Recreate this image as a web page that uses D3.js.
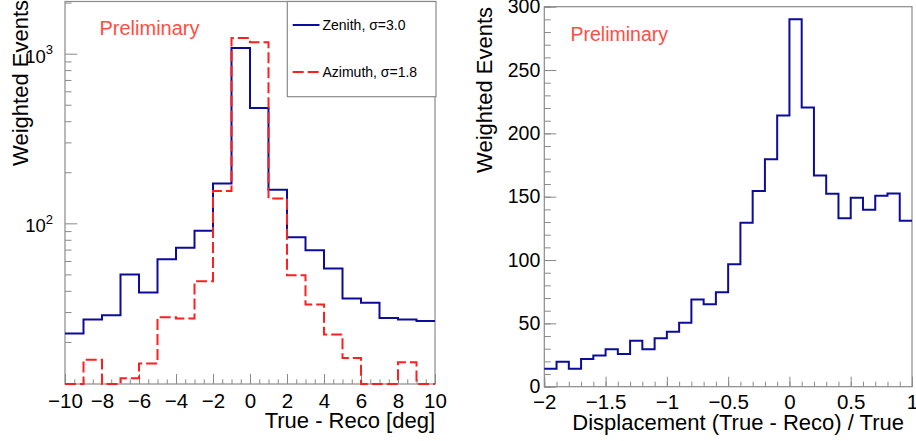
<!DOCTYPE html>
<html>
<head>
<meta charset="utf-8">
<script src="https://cdn.jsdelivr.net/npm/d3@7"></script>
<style>
  html, body { margin: 0; padding: 0; background: #fff; }
  svg { display: block; font-family: "Liberation Sans", Arial, Helvetica, sans-serif; }
</style>
</head>
<body>
<svg id="chart" width="916" height="441"></svg>
<script>
// left panel: angular residuals, 1 deg bins (lower edges)
const angleBinLo = [-10, -9, -8, -7, -6, -5, -4, -3, -2, -1, 0, 1, 2, 3, 4, 5, 6, 7, 8, 9];
const angleBinHi = 10;
const zenithCounts = [22.4, 27.1, 28.7, 50, 39.1, 61.5, 71.8, 90.4, 172, 1081,
                      478, 158, 82.7, 69.5, 54.2, 36, 34, 27.7, 27.1, 26.6];
const azimuthCounts = [0, 15.7, 0, 12.2, 14.9, 28, 27.5, 45.6, 155, 1238,
                       1167, 140, 49.5, 33.2, 22.1, 16.1, 0, 0, 15.2, 0];
const legendLabels = ['Zenith, \u03c3=3.0', 'Azimuth, \u03c3=1.8'];

// right panel: relative displacement, 0.1 bins (lower edges)
const dispBinLo = [-2.0, -1.9, -1.8, -1.7, -1.6, -1.5, -1.4, -1.3, -1.2, -1.1,
                   -1.0, -0.9, -0.8, -0.7, -0.6, -0.5, -0.4, -0.3, -0.2, -0.1,
                    0.0, 0.1, 0.2, 0.3, 0.4, 0.5, 0.6, 0.7, 0.8, 0.9];
const dispBinHi = 1.0;
const dispCounts = [14.2, 19.7, 14.2, 21.8, 24.7, 29.5, 25.8, 36.3, 29.5, 38.2,
                    43.4, 50.5, 68.9, 65, 74.5, 96.6, 129.5, 154.5, 179.5, 214.2,
                    290, 220.5, 166.8, 152.4, 132.9, 149.2, 139.7, 150.8, 152.6, 131];

const leftXTicks = [-10, -8, -6, -4, -2, 0, 2, 4, 6, 8, 10];
const leftYMajor = [100, 1000];
const rightXTicks = [-2, -1.5, -1, -0.5, 0, 0.5, 1];
const rightYTicks = [0, 50, 100, 150, 200, 250, 300];

const blue = '#0c0c9c';
const red = '#ff1f1f';
const prelimColor = '#ff4d40';
const frameColor = '#8a8a8a';

const svg = d3.select('#chart');

// turn bin edges + contents into step points
const stepPoints = (lo, hi, vals) => {
    const pts = lo.map((x, i) => [x, vals[i]]);
    pts.push([hi, vals[vals.length - 1]]);
    return pts;
};

const styleTicks = (g) => {
    g.select('.domain').remove();
    g.selectAll('.tick line').attr('stroke', frameColor).attr('stroke-width', 1);
    g.selectAll('.tick text').attr('fill', '#000');
};

// ---------------- left panel ----------------
const L = { left: 65, right: 435, top: 1.5, bottom: 384 };

const xL = d3.scaleLinear().domain([-10, 10]).range([L.left, L.right]);
const yL = d3.scaleLog().domain([11.3, 2030]).range([L.bottom, L.top]);
const yMinL = yL.domain()[0];

// minor log ticks
const logMinor = [];
[10, 100, 1000].forEach(dec => {
    for (let m = 1; m < 10; m++) {
        const v = dec * m;
        if (v > yMinL && v < yL.domain()[1] && m !== 1) logMinor.push(v);
    }
});

svg.append('g')
    .attr('transform', `translate(0,${L.bottom})`)
    .call(d3.axisBottom(xL).tickValues(d3.range(-10, 10.01, 0.5)).tickSize(-4.7).tickFormat(''))
    .call(styleTicks);

svg.append('g')
    .attr('transform', `translate(0,${L.bottom})`)
    .call(d3.axisBottom(xL).tickValues(leftXTicks).tickSize(-10).tickPadding(9)
        .tickFormat(d3.format('')))
    .call(styleTicks)
    .call(g => g.selectAll('.tick text').attr('font-size', 20.5).attr('dy', '0.71em'));

svg.append('g')
    .attr('transform', `translate(${L.left},0)`)
    .call(d3.axisLeft(yL).tickValues(logMinor).tickSize(-6.5).tickFormat(''))
    .call(styleTicks);

svg.append('g')
    .attr('transform', `translate(${L.left},0)`)
    .call(d3.axisLeft(yL).tickValues(leftYMajor).tickSize(-12.3).tickFormat(''))
    .call(styleTicks);

// 10^n labels
leftYMajor.forEach(v => {
    const t = svg.append('text')
        .attr('x', L.left - 12)
        .attr('y', yL(v) + 9)
        .attr('text-anchor', 'end')
        .attr('font-size', 18.5)
        .attr('fill', '#000');
    t.append('tspan').text('10');
    t.append('tspan')
        .attr('font-size', 13)
        .attr('dy', -8.5)
        .text(String(Math.round(Math.log10(v))));
});

// frame
svg.append('rect')
    .attr('x', L.left).attr('y', L.top)
    .attr('width', L.right - L.left).attr('height', L.bottom - L.top)
    .attr('fill', 'none').attr('stroke', frameColor).attr('stroke-width', 1.2);

svg.append('defs').append('clipPath').attr('id', 'clip-left')
    .append('rect')
    .attr('x', L.left).attr('y', L.top - 1)
    .attr('width', L.right - L.left).attr('height', L.bottom - L.top + 2);

const lineL = d3.line()
    .x(d => xL(d[0]))
    .y(d => yL(Math.max(d[1], yMinL)))
    .curve(d3.curveStepAfter);

svg.append('path')
    .datum(stepPoints(angleBinLo, angleBinHi, zenithCounts))
    .attr('fill', 'none')
    .attr('stroke', blue)
    .attr('stroke-width', 2)
    .attr('clip-path', 'url(#clip-left)')
    .attr('d', lineL);

svg.append('path')
    .datum(stepPoints(angleBinLo, angleBinHi, azimuthCounts))
    .attr('fill', 'none')
    .attr('stroke', red)
    .attr('stroke-width', 2)
    .attr('stroke-dasharray', '11,4')
    .attr('clip-path', 'url(#clip-left)')
    .attr('d', lineL);

// legend
svg.append('rect')
    .attr('x', 287.3).attr('y', L.top)
    .attr('width', 436 - 287.3).attr('height', 96.7 - L.top)
    .attr('fill', '#fff').attr('stroke', frameColor).attr('stroke-width', 1.2);

const legendStyles = [
    { color: blue, dash: null, y: 25 },
    { color: red, dash: '11,4', y: 72 }
];
legendLabels.forEach((label, i) => {
    const s = legendStyles[i];
    svg.append('line')
        .attr('x1', 292.7).attr('x2', 319.5)
        .attr('y1', s.y).attr('y2', s.y)
        .attr('stroke', s.color).attr('stroke-width', 2)
        .attr('stroke-dasharray', s.dash);
    svg.append('text')
        .attr('x', 322.5)
        .attr('y', s.y + 5)
        .attr('font-size', 14)
        .attr('fill', '#000')
        .text(label);
});

svg.append('text')
    .attr('x', 99.5).attr('y', 35)
    .attr('font-size', 20)
    .attr('fill', prelimColor)
    .text('Preliminary');

svg.append('text')
    .attr('x', L.right).attr('y', 428)
    .attr('text-anchor', 'end')
    .attr('font-size', 22)
    .attr('fill', '#000')
    .text('True - Reco [deg]');

svg.append('text')
    .attr('transform', 'translate(28,0) rotate(-90)')
    .attr('text-anchor', 'end')
    .attr('font-size', 22)
    .attr('fill', '#000')
    .text('Weighted Events');

// ---------------- right panel ----------------
const R = { left: 544.3, right: 912, top: 6.7, bottom: 386.7 };

const xR = d3.scaleLinear().domain([-2, 1]).range([R.left, R.right]);
const yR = d3.scaleLinear().domain([0, 300]).range([R.bottom, R.top]);

svg.append('g')
    .attr('transform', `translate(0,${R.bottom})`)
    .call(d3.axisBottom(xR).tickValues(d3.range(-2, 1.001, 0.1)).tickSize(-5).tickFormat(''))
    .call(styleTicks);

svg.append('g')
    .attr('transform', `translate(0,${R.bottom})`)
    .call(d3.axisBottom(xR).tickValues(rightXTicks).tickSize(-10).tickPadding(8)
        .tickFormat(d3.format('')))
    .call(styleTicks)
    .call(g => g.selectAll('.tick text').attr('font-size', 20.5).attr('dy', '0.71em'));

svg.append('g')
    .attr('transform', `translate(${R.left},0)`)
    .call(d3.axisLeft(yR).tickValues(d3.range(0, 301, 10)).tickSize(-6.5).tickFormat(''))
    .call(styleTicks);

svg.append('g')
    .attr('transform', `translate(${R.left},0)`)
    .call(d3.axisLeft(yR).tickValues(rightYTicks).tickSize(-12).tickPadding(4)
        .tickFormat(d3.format('')))
    .call(styleTicks)
    .call(g => g.selectAll('.tick text').attr('font-size', 19.5));

svg.append('rect')
    .attr('x', R.left).attr('y', R.top)
    .attr('width', R.right - R.left).attr('height', R.bottom - R.top)
    .attr('fill', 'none').attr('stroke', frameColor).attr('stroke-width', 1.2);

const lineR = d3.line()
    .x(d => xR(d[0]))
    .y(d => yR(d[1]))
    .curve(d3.curveStepAfter);

svg.append('path')
    .datum(stepPoints(dispBinLo, dispBinHi, dispCounts))
    .attr('fill', 'none')
    .attr('stroke', blue)
    .attr('stroke-width', 2)
    .attr('d', lineR);

svg.append('text')
    .attr('x', 570.5).attr('y', 40.5)
    .attr('font-size', 19.5)
    .attr('fill', prelimColor)
    .text('Preliminary');

svg.append('text')
    .attr('x', 904).attr('y', 430)
    .attr('text-anchor', 'end')
    .attr('font-size', 22)
    .attr('fill', '#000')
    .text('Displacement (True - Reco) / True');

svg.append('text')
    .attr('transform', 'translate(492,7) rotate(-90)')
    .attr('text-anchor', 'end')
    .attr('font-size', 22)
    .attr('fill', '#000')
    .text('Weighted Events');
</script>
</body>
</html>
